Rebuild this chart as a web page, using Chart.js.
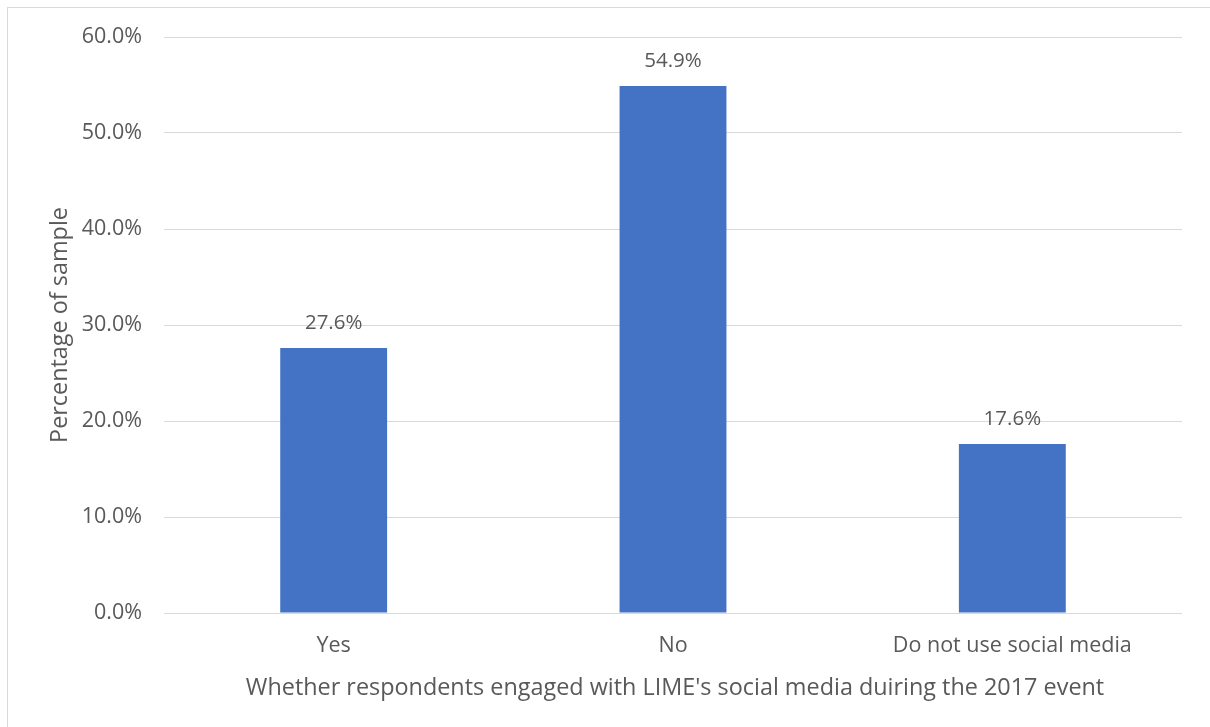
<!DOCTYPE html>
<html>
<head>
<meta charset="utf-8">
<script src="https://cdn.jsdelivr.net/npm/chart.js@4/dist/chart.umd.min.js"></script>
<style>
  html, body { margin: 0; padding: 0; background: #fff; overflow: hidden; }
  #frame { position: absolute; left: 7px; top: 7px; width: 1210px; height: 740px; border: 1px solid #d9d9d9; box-sizing: border-box; }
  #wrap { position: absolute; left: 0; top: 0; width: 1210px; height: 727px; }
</style>
</head>
<body>
<div id="frame"></div>
<div id="wrap"><canvas id="c" width="1210" height="727"></canvas></div>
<script>
const categories = ["Yes", "No", "Do not use social media"];
const values = [27.6, 54.9, 17.6];
const yTicks = [0, 10, 20, 30, 40, 50, 60];
const xTitle = "Whether respondents engaged with LIME's social media duiring the 2017 event";
const yTitle = "Percentage of sample";

const FONT = "'Open Sans', 'Liberation Sans', sans-serif";
const TEXT = "#595959";

const labelPlugin = {
  id: 'labels',
  afterDatasetsDraw(chart) {
    const ctx = chart.ctx;
    const meta = chart.getDatasetMeta(0);
    ctx.save();
    ctx.fillStyle = TEXT;
    ctx.font = "20.5px " + FONT;
    ctx.textAlign = 'center';
    ctx.textBaseline = 'middle';
    meta.data.forEach((bar, i) => {
      ctx.fillText(values[i].toFixed(1) + '%', bar.x, bar.y - 25);
    });
    // axis titles
    const ca = chart.chartArea;
    ctx.font = "23.4px " + FONT;
    ctx.fillText(xTitle, (ca.left + ca.right) / 2 + 2, 688);
    ctx.save();
    ctx.translate(60, (ca.top + ca.bottom) / 2);
    ctx.rotate(-Math.PI / 2);
    ctx.fillText(yTitle, 0, 0);
    ctx.restore();
    ctx.restore();
  }
};

new Chart(document.getElementById('c'), {
  type: 'bar',
  data: {
    labels: categories,
    datasets: [{
      data: values,
      backgroundColor: '#4472c4',
      borderWidth: 0,
      categoryPercentage: 1.0,
      barPercentage: 0.315
    }]
  },
  options: {
    responsive: false,
    animation: false,
    events: [],
    layout: { padding: { left: 0, right: 28, top: 37, bottom: 0 } },
    plugins: { legend: { display: false }, tooltip: { enabled: false } },
    scales: {
      x: {
        grid: { display: false },
        border: { display: false },
        ticks: { color: TEXT, font: { family: FONT, size: 21.5 }, padding: 12 },
        afterFit(scale) { scale.height = 114; }
      },
      y: {
        min: 0, max: 60,
        afterBuildTicks(scale) { scale.ticks = yTicks.map(v => ({ value: v })); },
        grid: { color: '#d9d9d9', lineWidth: 1, drawTicks: false },
        border: { display: false },
        ticks: {
          color: TEXT, font: { family: FONT, size: 21.5 }, padding: 22,
          callback: v => v.toFixed(1) + '%'
        },
        afterFit(scale) { scale.width = 164; }
      }
    }
  },
  plugins: [labelPlugin]
});
</script>
</body>
</html>
